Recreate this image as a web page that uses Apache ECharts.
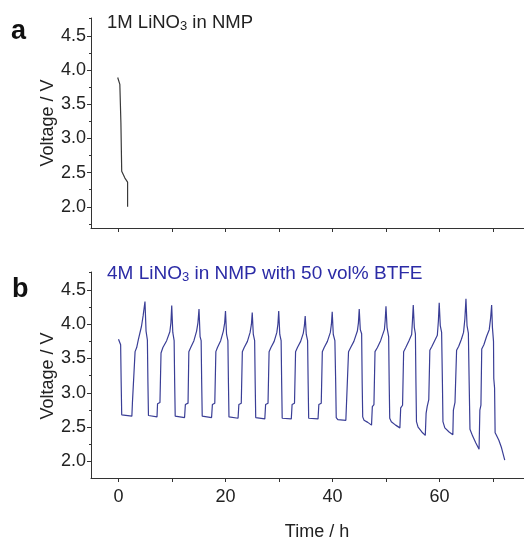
<!DOCTYPE html>
<html><head><meta charset="utf-8">
<script src="https://cdn.jsdelivr.net/npm/echarts@6/dist/echarts.min.js"></script>
<style>html,body{margin:0;padding:0;background:#fff}#c{width:524px;height:541px}</style>
</head><body><div id="c"></div>
<script>
// Panel a: 1M LiNO3 in NMP  [time h, voltage V]
const curveA = [[-0.15,3.89],[0.25,3.79],[0.45,3.23],[0.6,2.52],[1.2,2.42],[1.7,2.36],[1.7,2.0]];
// Panel b: 4M LiNO3 in NMP with 50 vol% BTFE  [time h, voltage V]
const curveB = [
[0,3.78],[0.4,3.70],[0.5,3.15],[0.6,2.68],[0.9,2.66],[2.5,2.66],[2.6,2.85],[2.95,2.87],[3.1,3.60],[3.4,3.66],[3.7,3.77],[4.3,3.97],[4.6,4.12],[4.95,4.33],
[5.15,3.90],[5.4,3.77],[5.5,3.15],[5.6,2.67],[5.8,2.65],[7.2,2.65],[7.3,2.84],[7.75,2.86],[7.95,3.58],[8.3,3.66],[9.0,3.76],[9.6,3.89],[9.8,4.02],[9.95,4.27],
[10.15,3.88],[10.4,3.76],[10.5,3.15],[10.6,2.66],[10.8,2.64],[12.35,2.64],[12.5,2.83],[13.0,2.85],[13.15,3.60],[13.5,3.66],[14.1,3.76],[14.6,3.90],[14.85,4.02],[15.05,4.22],
[15.25,3.82],[15.45,3.76],[15.55,3.15],[15.65,2.66],[15.8,2.64],[17.4,2.64],[17.55,2.83],[18.0,2.85],[18.2,3.60],[18.5,3.66],[19.1,3.76],[19.6,3.90],[19.85,4.02],[20.0,4.19],
[20.2,3.85],[20.45,3.76],[20.55,3.15],[20.65,2.65],[20.85,2.63],[22.35,2.63],[22.5,2.83],[22.95,2.85],[23.15,3.60],[23.5,3.66],[24.1,3.75],[24.6,3.88],[24.85,4.0],[25.0,4.17],
[25.2,3.85],[25.45,3.76],[25.55,3.15],[25.65,2.64],[25.85,2.62],[27.35,2.62],[27.5,2.83],[27.95,2.85],[28.15,3.60],[28.5,3.66],[29.1,3.75],[29.6,3.88],[29.8,4.0],[29.95,4.19],
[30.15,3.85],[30.4,3.76],[30.5,3.15],[30.6,2.63],[30.8,2.62],[32.3,2.62],[32.45,2.83],[32.9,2.85],[33.1,3.60],[33.45,3.66],[34.05,3.75],[34.55,3.87],[34.75,3.98],[34.9,4.12],
[35.1,3.85],[35.35,3.76],[35.45,3.15],[35.55,2.63],[35.75,2.62],[37.3,2.62],[37.45,2.83],[37.9,2.85],[38.1,3.60],[38.45,3.66],[39.05,3.75],[39.6,3.88],[39.8,4.0],[39.95,4.18],
[40.15,3.85],[40.45,3.76],[40.6,3.15],[40.7,2.64],[41.0,2.61],[42.5,2.60],[42.6,2.80],[42.85,2.82],[43.0,3.60],[43.4,3.66],[44.0,3.75],[44.65,3.90],[44.85,4.02],[45.0,4.22],
[45.2,3.92],[45.45,3.86],[45.55,3.15],[45.65,2.65],[45.9,2.60],[46.6,2.57],[47.3,2.53],[47.45,2.80],[47.75,2.83],[47.95,3.60],[48.4,3.66],[49.0,3.76],[49.7,3.92],[49.85,4.05],[50.0,4.26],
[50.2,3.95],[50.5,3.82],[50.6,3.15],[50.7,2.63],[51.0,2.58],[51.8,2.53],[52.6,2.49],[52.75,2.78],[53.1,2.82],[53.3,3.60],[53.7,3.66],[54.3,3.76],[54.8,3.85],[54.95,4.05],[55.1,4.28],
[55.3,3.95],[55.5,3.86],[55.6,3.15],[55.7,2.58],[56.0,2.50],[56.7,2.43],[57.35,2.38],[57.5,2.70],[57.7,2.80],[58.0,2.90],[58.2,3.62],[58.6,3.68],[59.1,3.76],[59.6,3.84],[59.8,4.05],[59.95,4.31],
[60.15,3.98],[60.4,3.88],[60.55,3.15],[60.65,2.58],[61.0,2.49],[61.8,2.43],[62.5,2.39],[62.6,2.75],[62.9,2.86],[63.2,3.62],[63.6,3.68],[64.1,3.78],[64.5,3.88],[64.75,4.08],[64.95,4.37],
[65.15,3.98],[65.4,3.87],[65.55,3.15],[65.7,2.47],[66.2,2.37],[66.8,2.27],[67.4,2.18],[67.55,2.75],[67.75,2.82],[67.9,3.64],[68.3,3.70],[68.8,3.82],[69.3,3.92],[69.55,4.08],[69.75,4.28],
[69.9,3.95],[70.1,3.75],[70.15,3.21],[70.3,3.07],[70.4,2.42],[70.6,2.39],[71.1,2.31],[71.6,2.20],[72.2,2.02]
];
const xTicks = [0,10,20,30,40,50,60,70];
const xLabels = [0,20,40,60];
const yLabels = [2.0,2.5,3.0,3.5,4.0,4.5];
const yMinor = [1.75,2.25,2.75,3.25,3.75,4.25,4.75];

const FONT = 'Liberation Sans, Arial, sans-serif';
const AX = '#333';
const chart = echarts.init(document.getElementById('c'), null, {renderer:'canvas'});

function xAxisDef(gi, showLabels){
  return {
    type:'value', gridIndex:gi, min:-5.14, max:75.8,
    axisLine:{show:true, onZero:false, lineStyle:{color:AX, width:1}},
    axisTick:{show:true, length:4, customValues:xTicks, lineStyle:{color:AX}},
    axisLabel:{show:showLabels, customValues:xLabels, color:'#222', fontSize:18, fontFamily:FONT, margin:10},
    splitLine:{show:false}
  };
}
function yAxisDef(gi, min, max){
  return {
    type:'value', gridIndex:gi, min:min, max:max, position:'left',
    axisLine:{show:true, onZero:false, lineStyle:{color:AX, width:1}},
    axisTick:{show:true, length:4, customValues:yLabels, lineStyle:{color:AX}},
    axisLabel:{show:true, customValues:yLabels, color:'#222', fontSize:18, fontFamily:FONT, margin:5,
      formatter:v=>v.toFixed(1)},
    splitLine:{show:false}
  };
}
function yMinorDef(gi, min, max){
  return {
    type:'value', gridIndex:gi, min:min, max:max, position:'left',
    axisLine:{show:false, onZero:false},
    axisTick:{show:true, length:2, customValues:yMinor, lineStyle:{color:AX}},
    axisLabel:{show:false}, splitLine:{show:false}
  };
}
const nameStyle = {font:'18px '+FONT, fill:'#222', align:'center', verticalAlign:'middle'};

chart.setOption({
  animation:false,
  backgroundColor:'#fff',
  grid:[
    {left:91, top:18, right:0, bottom:313, containLabel:false},
    {left:91, top:272, right:0, bottom:63, containLabel:false}
  ],
  xAxis:[xAxisDef(0,false), xAxisDef(1,true)],
  yAxis:[yAxisDef(0,1.69,4.76), yAxisDef(1,1.76,4.76), yMinorDef(0,1.69,4.76), yMinorDef(1,1.76,4.76)],
  series:[
    {type:'line', xAxisIndex:0, yAxisIndex:0, data:curveA, showSymbol:false, symbol:'none',
     lineStyle:{color:'#3a3a3a', width:1.2}},
    {type:'line', xAxisIndex:1, yAxisIndex:1, data:curveB, showSymbol:false, symbol:'none',
     lineStyle:{color:'#3a3e96', width:1.2}}
  ],
  graphic:[
    {type:'text', left:11, top:18, style:{text:'a', font:'bold 27px '+FONT, fill:'#111'}},
    {type:'text', left:12, top:276, style:{text:'b', font:'bold 27px '+FONT, fill:'#111'}},
    {type:'text', x:48, y:123, rotation:Math.PI/2, style:Object.assign({text:'Voltage / V'}, nameStyle)},
    {type:'text', x:48, y:376, rotation:Math.PI/2, style:Object.assign({text:'Voltage / V'}, nameStyle)},
    {type:'text', x:317, y:532, style:Object.assign({text:'Time / h'}, nameStyle)},
    {type:'text', left:107, top:13, style:{
      text:'{n|1M LiNO}{s|3}{n| in NMP}',
      rich:{n:{fontSize:18.5, fontFamily:FONT, fill:'#222'}, s:{fontSize:13, fontFamily:FONT, fill:'#222', padding:[8,0,0,0]}}
    }},
    {type:'text', left:107, top:264, style:{
      text:'{n|4M LiNO}{s|3}{n| in NMP with 50 vol% BTFE}',
      rich:{n:{fontSize:19, fontFamily:FONT, fill:'#2b2ba6'}, s:{fontSize:13, fontFamily:FONT, fill:'#2b2ba6', padding:[8,0,0,0]}}
    }}
  ]
});
</script></body></html>
